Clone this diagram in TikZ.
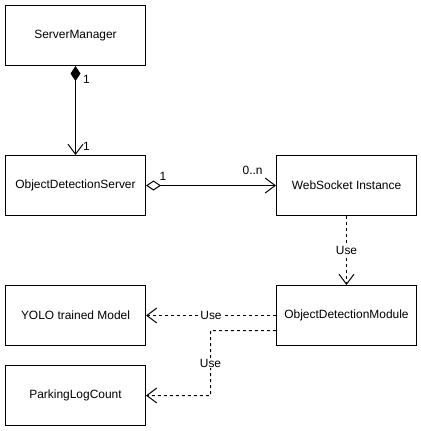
\documentclass[tikz,border=0pt]{standalone}
\usepackage{fontspec}
\setmainfont{Liberation Sans}
\usetikzlibrary{arrows.meta}

\begin{document}
\begin{tikzpicture}[x=1bp,y=-1bp,
    classbox/.style={draw,line width=1bp,minimum width=140bp,minimum height=60bp,inner sep=0pt,font=\fontsize{12}{14}\selectfont},
    lbl/.style={font=\fontsize{12}{14}\selectfont,inner sep=1bp},
    usedep/.style={line width=1bp,dash pattern=on 3bp off 3bp,-{Straight Barb[length=10bp,width=15bp]}}]
    \useasboundingbox (0,0) rectangle (421,431);
    \node[classbox] (sm) at (75.5,35.5) {ServerManager};
    \node[classbox] (ods) at (75.5,185.5) {ObjectDetectionServer};
    \node[classbox] (ws) at (346.5,185.5) {WebSocket Instance};
    \node[classbox] (yolo) at (75.5,315.5) {YOLO trained Model};
    \node[classbox] (odm) at (346.5,315.5) {ObjectDetectionModule};
    \node[classbox] (plc) at (75.5,395.5) {ParkingLogCount};
    % composition and aggregation
    \draw[line width=1bp,{Diamond[length=15bp,width=10bp]}-{Straight Barb[length=10bp,width=15bp]}] (sm) -- (ods)
        node[lbl,pos=0.15,right=6bp]{1} node[lbl,pos=0.9,right=6bp]{1};
    \draw[line width=1bp,{Diamond[open,length=15bp,width=10bp]}-{Straight Barb[length=10bp,width=15bp]}] (ods) -- (ws)
        node[lbl,pos=0.13,above=4bp]{1} node[lbl,pos=0.82,above=9bp]{0..n};
    % dependencies
    \draw[usedep] (ws) -- (odm) node[lbl,midway,fill=white]{Use};
    \draw[usedep] (odm.west) -- (yolo.east) node[lbl,midway,fill=white]{Use};
    \coordinate (turn) at (210.5,330.5);
    \draw[usedep] ([yshift=-15bp]odm.west) -- (turn) |- (plc.east) node[lbl,pos=0.25,fill=white]{Use};
\end{tikzpicture}
\end{document}
